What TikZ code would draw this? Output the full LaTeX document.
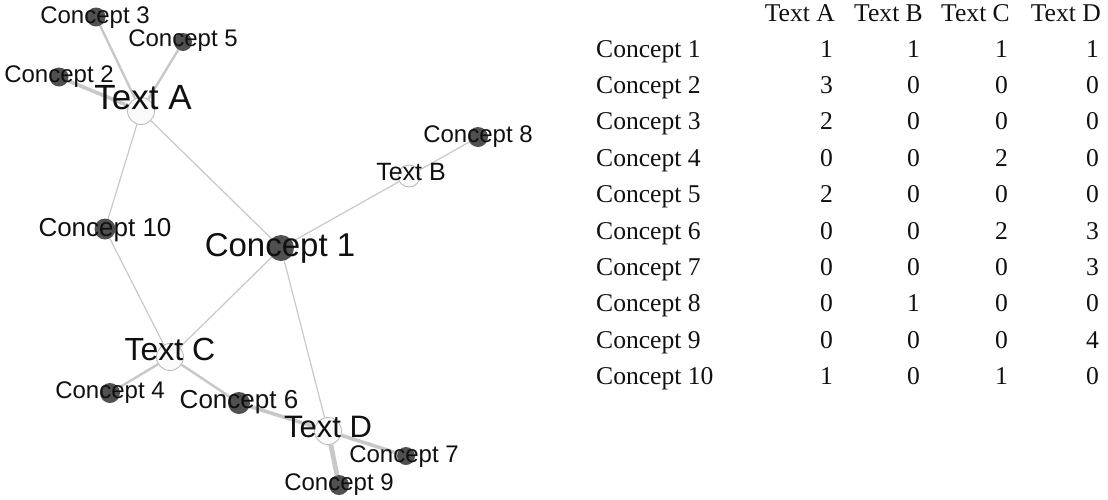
\documentclass[tikz,border=0pt]{standalone}
\usepackage{fontspec}
\setmainfont{Liberation Sans}
\newfontfamily\tabfont{Liberation Serif}
\usetikzlibrary{calc}
\pgfdeclarelayer{background}
\pgfsetlayers{background,main}
\definecolor{edgegray}{HTML}{C8C8C8}
\definecolor{conceptfill}{HTML}{505050}
\definecolor{textborder}{HTML}{BDBDBD}
\definecolor{textfill}{HTML}{FAFAFA}
\definecolor{labelink}{HTML}{101010}
\tikzset{
  concept/.style={circle, fill=conceptfill, inner sep=0pt, minimum size=#1},
  concept/.default=20pt,
  textnode/.style={circle, fill=textfill, draw=textborder, line width=0.9pt, inner sep=0pt, minimum size=#1},
  textnode/.default=26pt,
  edge/.style={draw=edgegray, line width=#1},
  edge/.default=1.2pt,
  lbl/.style={text=labelink, inner sep=0pt, anchor=base, font=\fontsize{#1}{#1}\selectfont},
  lbl/.default=24,
  tab/.style={inner sep=0pt, font=\tabfont\fontsize{25.6}{30}\selectfont, text=labelink}
}
\begin{document}
\begin{tikzpicture}[x=1pt, y=-1pt]
\useasboundingbox (0,0) rectangle (1108,499);

% network nodes
\node[textnode=27pt] (ta) at (141,111) {};
\node[textnode=22pt] (tb) at (409,176) {};
\node[textnode=27pt] (tc) at (170,357) {};
\node[textnode=27pt] (td) at (328,431) {};

\node[concept=26pt] (c1) at (281,248) {};
\node[concept=19pt] (c2) at (59,77) {};
\node[concept=19pt] (c3) at (96,17) {};
\node[concept=20pt] (c4) at (110,393) {};
\node[concept=18pt] (c5) at (183,42) {};
\node[concept=22pt] (c6) at (239,403) {};
\node[concept=18pt] (c7) at (406,456) {};
\node[concept=20pt] (c8) at (478,137) {};
\node[concept=20pt] (c9) at (339,485) {};
\node[concept=21pt] (c10) at (105,229) {};

% weighted edges, behind the nodes
\begin{pgfonlayer}{background}
  \draw[edge=1.2pt] (ta) -- (c1);
  \draw[edge=3.6pt] (ta) -- (c2);
  \draw[edge=2.4pt] (ta) -- (c3);
  \draw[edge=2.4pt] (ta) -- (c5);
  \draw[edge=1.2pt] (ta) -- (c10);
  \draw[edge=1.2pt] (tb) -- (c1);
  \draw[edge=1.2pt] (tb) -- (c8);
  \draw[edge=1.2pt] (tc) -- (c1);
  \draw[edge=2.4pt] (tc) -- (c4);
  \draw[edge=2.4pt] (tc) -- (c6);
  \draw[edge=1.2pt] (tc) -- (c10);
  \draw[edge=1.2pt] (td) -- (c1);
  \draw[edge=3.6pt] (td) -- (c6);
  \draw[edge=3.6pt] (td) -- (c7);
  \draw[edge=4.8pt] (td) -- (c9);
\end{pgfonlayer}

% node labels
\node[lbl=35] (lta) at ($(ta)+(2,-2)$) {Text A};
\node[lbl=25] (ltb) at ($(tb)+(2,4)$) {Text B};
\node[lbl=32] (ltc) at ($(tc)+(0,3)$) {Text C};
\node[lbl=31] (ltd) at ($(td)+(0,6)$) {Text D};
\node[lbl=33] (lc1) at ($(c1)+(-1,8)$) {Concept 1};
\node[lbl=24] (lc2) at ($(c2)+(0,5)$) {Concept 2};
\node[lbl=24] (lc3) at ($(c3)+(-1,6)$) {Concept 3};
\node[lbl=24] (lc4) at ($(c4)+(0,5)$) {Concept 4};
\node[lbl=24] (lc5) at ($(c5)+(0,4)$) {Concept 5};
\node[lbl=26] (lc6) at ($(c6)+(0,5)$) {Concept 6};
\node[lbl=24] (lc7) at ($(c7)+(-2,6)$) {Concept 7};
\node[lbl=24] (lc8) at ($(c8)+(0,5)$) {Concept 8};
\node[lbl=24] (lc9) at ($(c9)+(0,5)$) {Concept 9};
\node[lbl=26] (lc10) at ($(c10)+(0,7)$) {Concept 10};

% occurrence table
\node[tab, anchor=base east] (ha) at (835,21) {Text A};
\node[tab, anchor=base east] (hb) at (923,21) {Text B};
\node[tab, anchor=base east] (hc) at (1010,21) {Text C};
\node[tab, anchor=base east] (hd) at (1101,21) {Text D};
\foreach \i/\a/\b/\c/\d in {1/1/1/1/1, 2/3/0/0/0, 3/2/0/0/0, 4/0/0/2/0, 5/2/0/0/0,
                            6/0/0/2/3, 7/0/0/0/3, 8/0/1/0/0, 9/0/0/0/4, 10/1/0/1/0}{
  \pgfmathsetmacro{\yy}{57+36.4*(\i-1)}
  \node[tab, anchor=base west] (row\i) at (596,\yy) {Concept \i};
  \node[tab, anchor=base east] (va\i) at (833,\yy) {\a};
  \node[tab, anchor=base east] (vb\i) at (920,\yy) {\b};
  \node[tab, anchor=base east] (vc\i) at (1008,\yy) {\c};
  \node[tab, anchor=base east] (vd\i) at (1099,\yy) {\d};
}
\end{tikzpicture}
\end{document}
